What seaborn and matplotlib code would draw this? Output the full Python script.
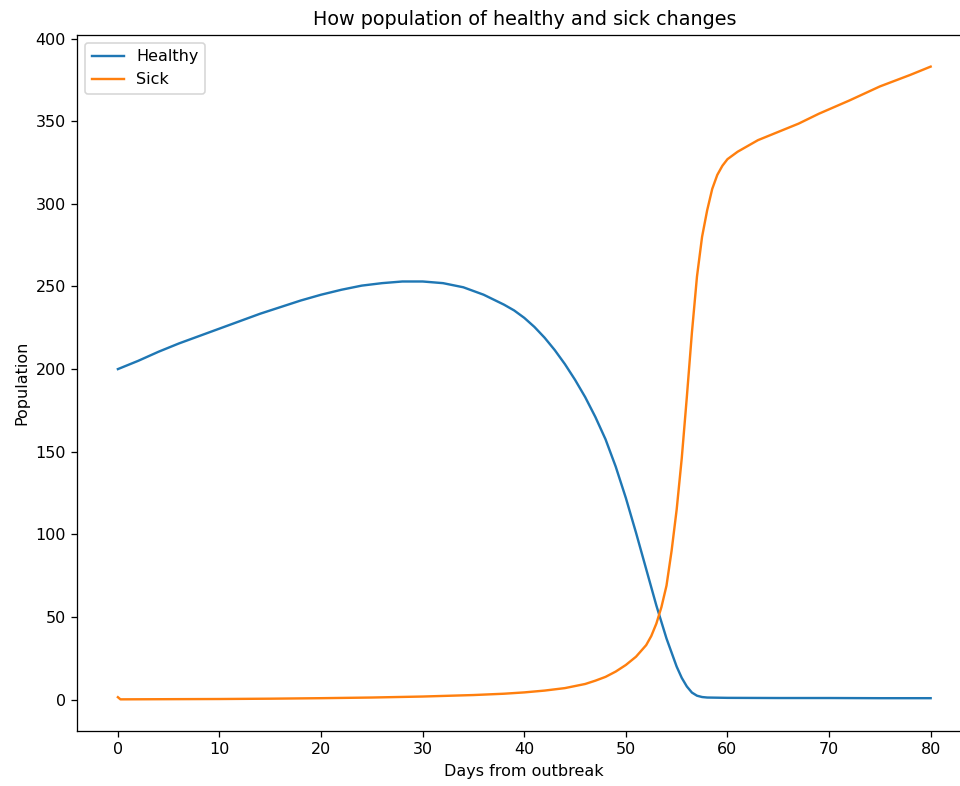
import matplotlib
matplotlib.use("Agg")
import matplotlib.pyplot as plt
import seaborn as sns

# values
healthy_days = [0, 2, 4, 6, 8, 10, 12, 14, 16, 18, 20, 22, 24, 26, 28, 30,
                32, 34, 36, 38, 39, 40, 41, 42, 43, 44, 45, 46, 47, 48, 49,
                50, 51, 52, 53, 54, 55, 55.5, 56, 56.5, 57, 57.5, 58, 60, 65,
                70, 75, 80]
healthy = [200, 205, 210.5, 215.5, 220, 224.5, 229, 233.5, 237.5, 241.5, 245,
           248, 250.5, 252, 253, 253, 252, 249.5, 245, 239, 235.5, 231, 225.5,
           219, 211.5, 203, 193.5, 183, 171, 157.5, 141, 122, 101, 79, 57, 37,
           20, 13.2, 8, 4.3, 2.4, 1.6, 1.3, 1.1, 1.0, 1.0, 0.9, 0.9]

sick_days = [0, 0.25, 5, 10, 15, 20, 25, 30, 35, 38, 40, 42, 44, 46, 47, 48,
             49, 50, 51, 52, 52.5, 53, 53.5, 54, 54.5, 55, 55.5, 56, 56.5, 57,
             57.5, 58, 58.5, 59, 59.5, 60, 61, 62, 63, 64, 65, 67, 69, 72, 75,
             78, 80]
sick = [1.5, 0.2, 0.3, 0.4, 0.6, 0.9, 1.3, 1.9, 2.8, 3.6, 4.4, 5.5, 7, 9.5,
        11.5, 13.8, 17, 21, 26, 33, 38.5, 46, 56, 69, 90, 115, 146, 183, 222,
        256, 280, 296, 309, 317.5, 323, 327, 331.5, 335, 338.5, 341, 343.5,
        348.5, 354.5, 362.5, 371, 378, 383]

dpi = 115
fig = plt.figure(figsize=(961 / dpi, 786 / dpi), dpi=dpi)
ax = fig.add_axes([0.0804, 0.0700, 0.9303, 0.8855])

sns.lineplot(x=healthy_days, y=healthy, color="#1f77b4", label="Healthy", ax=ax)
sns.lineplot(x=sick_days, y=sick, color="#ff7f0e", label="Sick", ax=ax)

ax.set_title("How population of healthy and sick changes")
ax.set_xlabel("Days from outbreak")
ax.set_ylabel("Population")
ax.legend(loc="upper left")

fig.savefig("out.png", dpi=dpi)
